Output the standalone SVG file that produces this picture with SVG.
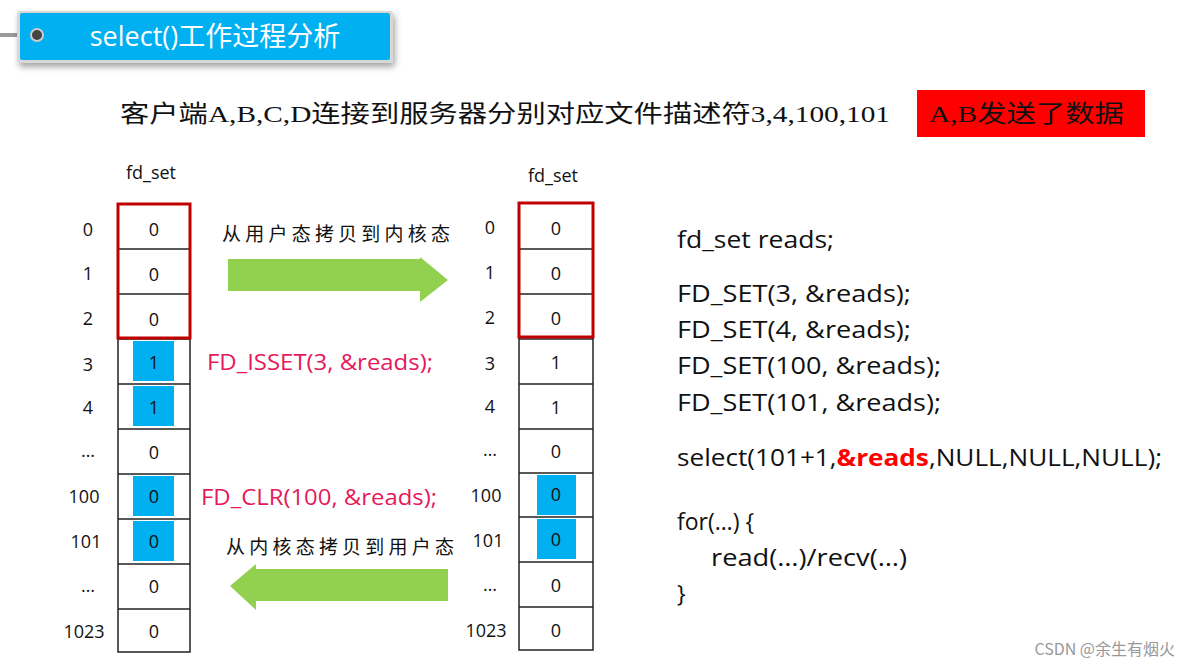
<svg xmlns="http://www.w3.org/2000/svg" width="1192" height="668" viewBox="0 0 1192 668">
<defs>
<style>
.c{fill:#fff;stroke:#222;stroke-width:1.5}
.n{font-family:"Open Sans","Liberation Sans",sans-serif;font-size:18px;fill:#111;text-anchor:middle}
.code{font-family:"Open Sans","Liberation Sans",sans-serif;font-size:23px;fill:#111}
.pink{font-family:"Open Sans","Liberation Sans",sans-serif;font-size:21px;fill:#e6195a}
.cn{font-family:"Liberation Serif","Noto Sans CJK SC",serif;font-size:19px;fill:#111}
.hl{fill:#00b0f0}
.red{fill:none;stroke:#c00000;stroke-width:3}
</style>
<filter id="sh" x="-10%" y="-30%" width="120%" height="170%"><feDropShadow dx="2" dy="4" stdDeviation="3" flood-opacity="0.35"/></filter>
</defs>
<rect width="1192" height="668" fill="#fff"/>
<g id="title">
<line x1="0" y1="35" x2="36" y2="35" stroke="#999" stroke-width="4"/>
<rect x="17" y="11" width="376" height="52" rx="3" fill="#d8d8d8" filter="url(#sh)"/>
<rect x="20" y="13" width="370" height="47" rx="2" fill="#00b0f0"/>
<circle cx="37" cy="35" r="6" fill="#444" stroke="#ccc" stroke-width="2"/>
<text x="215" y="46" font-family="Open Sans,Noto Sans CJK SC,sans-serif" font-size="27" fill="#fff" text-anchor="middle">select()工作过程分析</text>
</g>
<g id="header">
<text x="120" y="122" font-family="Liberation Serif,Noto Sans CJK SC,serif" font-size="24" fill="#111" textLength="770" lengthAdjust="spacingAndGlyphs">客户端A,B,C,D连接到服务器分别对应文件描述符3,4,100,101</text>
<rect x="917" y="90" width="228" height="47" fill="#ff0000"/>
<text x="929" y="122" font-family="Liberation Serif,Noto Sans CJK SC,serif" font-size="24" fill="#111" textLength="195" lengthAdjust="spacingAndGlyphs">A,B发送了数据</text>
</g>
<g id="left-fdset">
<text class="n" x="151" y="179">fd_set</text>
<rect class="c" x="118" y="204" width="72" height="448"/>
<g stroke="#222" stroke-width="1.5">
<line x1="118" y1="249" x2="190" y2="249"/><line x1="118" y1="294" x2="190" y2="294"/><line x1="118" y1="339" x2="190" y2="339"/><line x1="118" y1="384" x2="190" y2="384"/><line x1="118" y1="429" x2="190" y2="429"/><line x1="118" y1="474" x2="190" y2="474"/><line x1="118" y1="519" x2="190" y2="519"/><line x1="118" y1="564" x2="190" y2="564"/><line x1="118" y1="609" x2="190" y2="609"/>
</g>
<rect class="hl" x="133" y="341" width="41" height="40"/><rect class="hl" x="133" y="386" width="41" height="40"/>
<rect class="hl" x="133" y="476" width="41" height="40"/><rect class="hl" x="133" y="521" width="41" height="40"/>
<rect class="red" x="118" y="204" width="72" height="134"/>
<text class="n" x="154" y="236">0</text><text class="n" x="154" y="281">0</text><text class="n" x="154" y="326">0</text><text class="n" x="154" y="369">1</text><text class="n" x="154" y="414">1</text><text class="n" x="154" y="459">0</text><text class="n" x="154" y="503">0</text><text class="n" x="154" y="548">0</text><text class="n" x="154" y="593">0</text><text class="n" x="154" y="638">0</text>
<text class="n" x="88" y="236">0</text><text class="n" x="88" y="280">1</text><text class="n" x="88" y="325">2</text><text class="n" x="88" y="371">3</text><text class="n" x="88" y="414">4</text><text class="n" x="88" y="457">…</text><text class="n" x="84" y="503">100</text><text class="n" x="86" y="548">101</text><text class="n" x="88" y="592">…</text><text class="n" x="84" y="638">1023</text>
</g>
<g id="right-fdset">
<text class="n" x="553" y="182">fd_set</text>
<rect class="c" x="519" y="203" width="74" height="447"/>
<g stroke="#222" stroke-width="1.5">
<line x1="519" y1="249" x2="593" y2="249"/><line x1="519" y1="294" x2="593" y2="294"/><line x1="519" y1="339" x2="593" y2="339"/><line x1="519" y1="384" x2="593" y2="384"/><line x1="519" y1="429" x2="593" y2="429"/><line x1="519" y1="473" x2="593" y2="473"/><line x1="519" y1="517" x2="593" y2="517"/><line x1="519" y1="562" x2="593" y2="562"/><line x1="519" y1="607" x2="593" y2="607"/>
</g>
<rect class="hl" x="537" y="475" width="39" height="40"/><rect class="hl" x="537" y="519" width="39" height="40"/>
<rect class="red" x="519" y="203" width="74" height="134"/>
<text class="n" x="556" y="235">0</text><text class="n" x="556" y="280">0</text><text class="n" x="556" y="325">0</text><text class="n" x="556" y="369">1</text><text class="n" x="556" y="414">1</text><text class="n" x="556" y="458">0</text><text class="n" x="556" y="501">0</text><text class="n" x="556" y="546">0</text><text class="n" x="556" y="592">0</text><text class="n" x="556" y="637">0</text>
<text class="n" x="490" y="234">0</text><text class="n" x="490" y="279">1</text><text class="n" x="490" y="324">2</text><text class="n" x="490" y="370">3</text><text class="n" x="490" y="413">4</text><text class="n" x="490" y="456">…</text><text class="n" x="486" y="502">100</text><text class="n" x="488" y="547">101</text><text class="n" x="490" y="591">…</text><text class="n" x="486" y="637">1023</text>
</g>
<g id="connectors">
<polygon points="228,259 420,259 420,257 448,280 420,302 420,291 228,291" fill="#92d050"/>
<polygon points="448,569 256,569 256,564 230,586 256,610 256,601 448,601" fill="#92d050"/>
</g>
<g id="labels">
<text class="cn" x="222" y="241" textLength="228" lengthAdjust="spacing">从用户态拷贝到内核态</text>
<text class="cn" x="226" y="554" textLength="228" lengthAdjust="spacing">从内核态拷贝到用户态</text>
<text class="pink" x="207" y="370" textLength="226" lengthAdjust="spacingAndGlyphs">FD_ISSET(3, &amp;reads);</text>
<text class="pink" x="201" y="505" textLength="236" lengthAdjust="spacingAndGlyphs">FD_CLR(100, &amp;reads);</text>
</g>
<g id="code">
<text class="code" x="677" y="248" textLength="157" lengthAdjust="spacingAndGlyphs">fd_set reads;</text>
<text class="code" x="677" y="302" textLength="234" lengthAdjust="spacingAndGlyphs">FD_SET(3, &amp;reads);</text>
<text class="code" x="677" y="338" textLength="234" lengthAdjust="spacingAndGlyphs">FD_SET(4, &amp;reads);</text>
<text class="code" x="677" y="374" textLength="264" lengthAdjust="spacingAndGlyphs">FD_SET(100, &amp;reads);</text>
<text class="code" x="677" y="411" textLength="264" lengthAdjust="spacingAndGlyphs">FD_SET(101, &amp;reads);</text>
<text class="code" x="677" y="466" textLength="485" lengthAdjust="spacingAndGlyphs">select(101+1,<tspan fill="#ff0000" font-weight="bold">&amp;reads</tspan>,NULL,NULL,NULL);</text>
<text class="code" x="677" y="530">for(…) {</text>
<text class="code" x="711" y="566" textLength="196" lengthAdjust="spacingAndGlyphs">read(…)/recv(…)</text>
<text class="code" x="677" y="602">}</text>
</g>
<text x="1175" y="655" font-family="Noto Sans CJK SC,sans-serif" font-size="16" fill="#999" text-anchor="end">CSDN @余生有烟火</text>
</svg>
